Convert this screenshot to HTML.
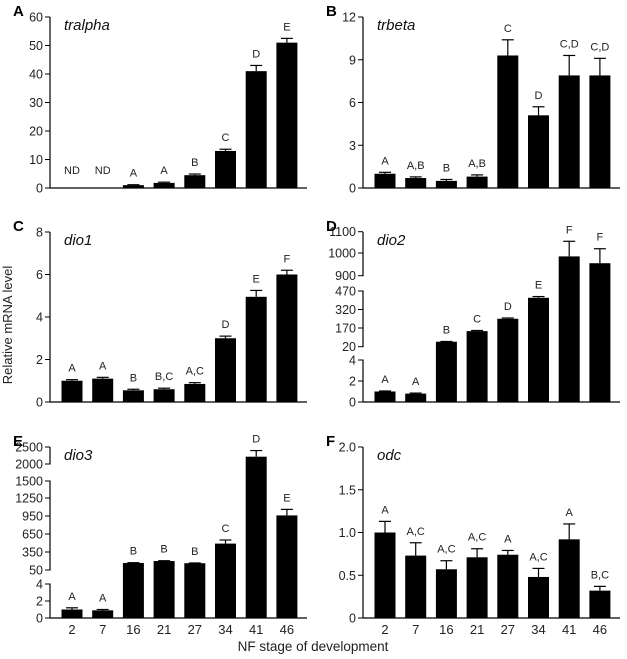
<!DOCTYPE html>
<html><head><meta charset="utf-8"><style>
body{margin:0;background:#fff}
svg{display:block;font-family:"Liberation Sans",Arial,sans-serif}
</style></head><body>
<svg id="c" width="627" height="659" viewBox="0 0 627 659"></svg>
<script>
const stages=["2","7","16","21","27","34","41","46"];
// Panel A tralpha
const aVals=[null,null,1.0,1.8,4.5,13,41,51];
const aErr=[0,0,0.15,0.25,0.4,0.6,2,1.5];
const aSig=["ND","ND","A","A","B","C","D","E"];
const aTicks=[0,10,20,30,40,50,60];
// Panel B trbeta
const bVals=[1.0,0.7,0.5,0.8,9.3,5.1,7.9,7.9];
const bErr=[0.1,0.08,0.1,0.12,1.1,0.6,1.4,1.2];
const bSig=["A","A,B","B","A,B","C","D","C,D","C,D"];
const bTicks=[0,3,6,9,12];
// Panel C dio1
const cVals=[1.0,1.1,0.55,0.6,0.85,3.0,4.95,6.0];
const cErr=[0.05,0.06,0.05,0.05,0.06,0.1,0.3,0.2];
const cSig=["A","A","B","B,C","A,C","D","E","F"];
const cTicks=[0,2,4,6,8];
// Panel D dio2 (segmented axis)
const dVals=[1.0,0.8,60,145,245,415,985,955];
const dErr=[0.05,0.05,2,5,6,10,70,65];
const dSig=["A","A","B","C","D","E","F","F"];
const dTicks=[0,2,4,20,170,320,470,900,1000,1100];
// Panel E dio3 (segmented axis)
const eVals=[1.0,0.9,167,200,163,490,2215,960];
const eErr=[0.2,0.1,5,5,4,60,180,100];
const eSig=["A","A","B","B","B","C","D","E"];
const eTicks=[0,2,4,50,350,650,950,1250,1500,2000,2500];
// Panel F odc
const fVals=[1.0,0.73,0.57,0.71,0.74,0.48,0.92,0.32];
const fErr=[0.13,0.15,0.1,0.1,0.05,0.1,0.18,0.05];
const fSig=["A","A,C","A,C","A,C","A","A,C","A","B,C"];
const fTicks=["0","0.5","1.0","1.5","2.0"];

const NS="http://www.w3.org/2000/svg";
const svg=document.getElementById('c');
function mk(tag,at,parent){const e=document.createElementNS(NS,tag);for(const k in at)e.setAttribute(k,at[k]);(parent||svg).appendChild(e);return e;}

const dTickPx=[0,21,42,55.3,74,92.5,111,126.3,149,170.3];
const eTickPx=[0,17,34,48,66,84,102,120,137,154,171];

function panel(o){
  const g=mk('g',{});
  
  
  const tv=o.ticks.map(Number);
  const H=o.bottom-o.top;
  const px=o.tickPx||tv.map(v=>(v-tv[0])/(tv[tv.length-1]-tv[0])*H);
  function y(v){
    if(v<=tv[0])return o.bottom;
    for(let i=1;i<tv.length;i++){if(v<=tv[i]){return o.bottom-(px[i-1]+(v-tv[i-1])/(tv[i]-tv[i-1])*(px[i]-px[i-1]));}}
    return o.bottom-px[px.length-1];
  }
  function x(i){return o.ax+22+i*30.7;}
  const ya=mk('line',{x1:o.ax,y1:o.top,x2:o.ax,y2:o.bottom,stroke:'#000','stroke-width':1.2},g);
  
  if(o.breaks){for(const b of o.breaks){mk('line',{x1:o.ax,y1:o.bottom-px[b]-0.5,x2:o.ax,y2:o.bottom-px[b+1]+0.5,stroke:'#fff','stroke-width':3},g);}}
  const xa=mk('line',{x1:o.ax,y1:o.bottom,x2:o.ax+257,y2:o.bottom,stroke:'#000','stroke-width':1.2},g);
  
  o.ticks.forEach((t,i)=>{
    const yy=o.bottom-px[i];
    mk('line',{x1:o.ax-5,y1:yy,x2:o.ax,y2:yy,stroke:'#000','stroke-width':1},g);
    const tx=mk('text',{x:o.ax-7,y:yy+4.5,'font-size':12.5,'text-anchor':'end',fill:'#222'},g);
    tx.textContent=t;
    
  });
  o.vals.forEach((v,i)=>{
    const cx=x(i);
    if(v!==null){
      const top=y(v);
      const r=mk('rect',{x:cx-10.5,y:top,width:21,height:o.bottom-top,fill:'#000'},g);
      
      const et=y(v+o.err[i]);
      if(o.err[i]>0){
        mk('line',{x1:cx,y1:top,x2:cx,y2:et,stroke:'#000','stroke-width':1.2},g);
        mk('line',{x1:cx-6,y1:et,x2:cx+6,y2:et,stroke:'#000','stroke-width':1.2},g);
      }
      const lt=mk('text',{x:cx,y:Math.min(et,top)-8,'font-size':11,'text-anchor':'middle',fill:'#222'},g);
      lt.textContent=o.sig[i];
      
    } else {
      const lt=mk('text',{x:cx,y:o.bottom-14,'font-size':11,'text-anchor':'middle',fill:'#222'},g);
      lt.textContent=o.sig[i];
      
    }
    if(o.xlabels){
      const xl=mk('text',{x:cx,y:o.bottom+16,'font-size':13,'text-anchor':'middle',fill:'#222'},g);
      xl.textContent=stages[i];
      
    }
  });
  const gn=mk('text',{x:o.ax+14,y:o.top+13,'font-size':15,'font-style':'italic',fill:'#111'},g);
  gn.textContent=o.gene;
  
  const pl=mk('text',{x:o.ax-37,y:o.top-1,'font-size':15,'font-weight':'bold',fill:'#000'},g);
  pl.textContent=o.id;
  
}
panel({id:'A',gene:'tralpha',ax:50,top:17,bottom:188,ticks:aTicks,vals:aVals,err:aErr,sig:aSig});
panel({id:'B',gene:'trbeta',ax:363,top:17,bottom:188,ticks:bTicks,vals:bVals,err:bErr,sig:bSig});
panel({id:'C',gene:'dio1',ax:50,top:232,bottom:402,ticks:cTicks,vals:cVals,err:cErr,sig:cSig});
panel({id:'D',gene:'dio2',ax:363,top:232,bottom:402,ticks:dTicks,tickPx:dTickPx,breaks:[2,6],vals:dVals,err:dErr,sig:dSig});
panel({id:'E',gene:'dio3',ax:50,top:447,bottom:618,ticks:eTicks,tickPx:eTickPx,breaks:[2,8],vals:eVals,err:eErr,sig:eSig,xlabels:true});
panel({id:'F',gene:'odc',ax:363,top:447,bottom:618,ticks:fTicks,vals:fVals,err:fErr,sig:fSig,xlabels:true});

const xt=mk('text',{x:313,y:651,'font-size':13.5,'text-anchor':'middle',fill:'#222'});
xt.textContent='NF stage of development';

const yt=mk('text',{x:0,y:0,'font-size':13,'text-anchor':'middle',fill:'#222',transform:'translate(12,325) rotate(-90)'});
yt.textContent='Relative mRNA level';

</script>
</body></html>
